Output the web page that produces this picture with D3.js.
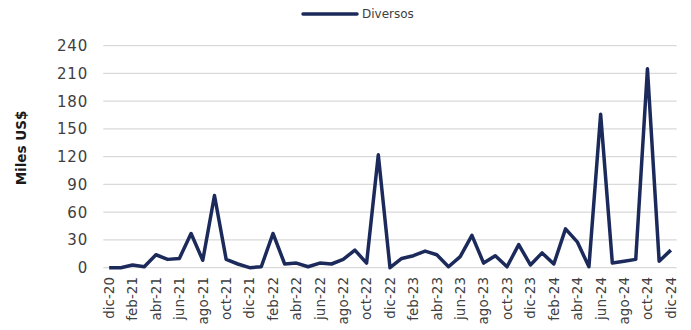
<!DOCTYPE html>
<meta charset="utf-8">
<style>
body { margin: 0; background: #fff; }
text { font-family: "DejaVu Sans", sans-serif; fill: #404040; }
.grid line { stroke: #d9d9d9; stroke-width: 1.3px; }
</style>
<body>
<script src="https://d3js.org/d3.v7.min.js"></script>
<script>

var months = ["dic-20","ene-21","feb-21","mar-21","abr-21","may-21","jun-21","jul-21","ago-21","sep-21","oct-21","nov-21",
  "dic-21","ene-22","feb-22","mar-22","abr-22","may-22","jun-22","jul-22","ago-22","sep-22","oct-22","nov-22",
  "dic-22","ene-23","feb-23","mar-23","abr-23","may-23","jun-23","jul-23","ago-23","sep-23","oct-23","nov-23",
  "dic-23","ene-24","feb-24","mar-24","abr-24","may-24","jun-24","jul-24","ago-24","sep-24","oct-24","nov-24","dic-24"];

var diversos = [0,0,3,1,14,9,10,37,8,78,9,4,0,1,37,4,5,1,5,4,9,19,5,122,0,10,13,18,14,1,12,35,5,13,1,25,3,16,4,42,28,1,166,5,7,9,215,7,19];

var yTicks = [0,30,60,90,120,150,180,210,240];

var width = 691, height = 330;
var margin = {top: 45.7, right: 14.3, bottom: 62.3, left: 103.3};

var svg = d3.select("body").append("svg")
    .attr("width", width)
    .attr("height", height);

var x = d3.scaleBand()
    .domain(months)
    .range([margin.left, width - margin.right]);

var y = d3.scaleLinear()
    .domain([0, 240])
    .range([height - margin.bottom, margin.top]);

// gridlines
svg.append("g")
    .attr("class", "grid")
  .selectAll("line")
  .data(yTicks)
  .enter().append("line")
    .attr("x1", margin.left)
    .attr("x2", width - margin.right)
    .attr("y1", function(d) { return y(d); })
    .attr("y2", function(d) { return y(d); });

// y axis labels
svg.append("g")
  .selectAll("text")
  .data(yTicks)
  .enter().append("text")
    .attr("x", 88)
    .attr("y", function(d) { return y(d); })
    .attr("dy", "0.36em")
    .attr("text-anchor", "end")
    .style("font-size", "15px")
    .style("letter-spacing", "0.8px")
    .text(function(d) { return d; });

// x axis labels (every other month)
svg.append("g")
  .selectAll("text")
  .data(months.filter(function(d, i) { return i % 2 === 0; }))
  .enter().append("text")
    .attr("transform", function(d) {
      return "translate(" + (x(d) + x.bandwidth() / 2) + ",277) rotate(-90)";
    })
    .attr("dy", "0.36em")
    .attr("text-anchor", "end")
    .style("font-size", "13.5px")
    .text(function(d) { return d; });

// y axis title
svg.append("text")
    .attr("transform", "translate(21,148) rotate(-90)")
    .attr("text-anchor", "middle")
    .attr("dy", "0.36em")
    .style("font-size", "13.5px")
    .style("font-weight", "bold")
    .style("fill", "#1a1a1a")
    .text("Miles US$");

// line
var line = d3.line()
    .x(function(d, i) { return x(months[i]) + x.bandwidth() / 2; })
    .y(function(d) { return y(d); });

svg.append("path")
    .datum(diversos)
    .attr("d", line)
    .attr("fill", "none")
    .attr("stroke", "#1b2a5b")
    .attr("stroke-width", 3.5)
    .attr("stroke-linejoin", "round");

// legend
var legend = svg.append("g").attr("transform", "translate(303,14)");
legend.append("line")
    .attr("x1", 0).attr("x2", 54)
    .attr("stroke", "#1b2a5b")
    .attr("stroke-width", 3.5)
    .attr("stroke-linecap", "round");
legend.append("text")
    .attr("x", 59)
    .attr("dy", "0.36em")
    .style("font-size", "12px")
    .text("Diversos");

</script>
</body>
